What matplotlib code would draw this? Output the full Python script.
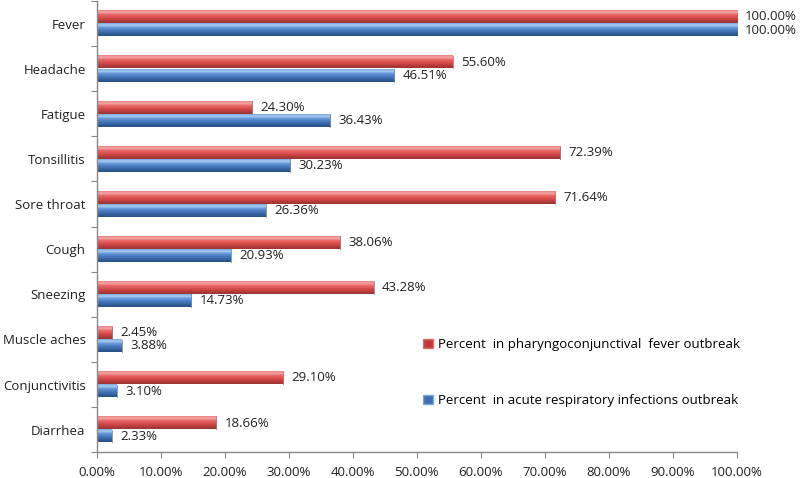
import numpy as np
import matplotlib
matplotlib.use('Agg')
import matplotlib.pyplot as plt
from matplotlib.colors import LinearSegmentedColormap
from matplotlib.patches import Patch

symptoms = ["Fever", "Headache", "Fatigue", "Tonsillitis", "Sore throat", "Cough",
            "Sneezing", "Muscle aches", "Conjunctivitis", "Diarrhea"]
pcf_pct = [100.00, 55.60, 24.30, 72.39, 71.64, 38.06, 43.28, 2.45, 29.10, 18.66]
ari_pct = [100.00, 46.51, 36.43, 30.23, 26.36, 20.93, 14.73, 3.88, 3.10, 2.33]
series_names = ["Percent  in pharyngoconjunctival  fever outbreak",
                "Percent  in acute respiratory infections outbreak"]
x_ticks = np.arange(0, 101, 10)

plt.rcParams['font.family'] = ['Open Sans', 'DejaVu Sans']

# gradient colormaps, listed from the top edge of a bar down to its bottom edge
red_cmap = LinearSegmentedColormap.from_list(
    "red3d", ["#e88080", "#f4a8a8", "#ea6a6a", "#e05555", "#cc4545", "#b03a3a", "#9a3535"])
blue_cmap = LinearSegmentedColormap.from_list(
    "blue3d", ["#7aa8e0", "#a8cdf2", "#6a9ada", "#4f82c4", "#3f6fb0", "#305e9a", "#284f85"])
grad = np.linspace(0, 1, 64).reshape(-1, 1)

fig = plt.figure(figsize=(8, 4.78), dpi=100)
ax = fig.add_axes([0.121, 0.054, 0.8, 0.944])

n = len(symptoms)
y = np.arange(n)
h = 0.28
off = 0.145

def draw_bar(val, yc, cmap):
    # y axis is inverted, so yc - h/2 is the visual top
    ax.imshow(grad, cmap=cmap, origin='upper', aspect='auto',
              extent=(0, val, yc + h / 2, yc - h / 2), interpolation='bilinear', zorder=2)
    ax.plot([val, val], [yc - h / 2, yc + h / 2], color="#8a8a8a", lw=0.6, zorder=3)

for i in range(n):
    draw_bar(pcf_pct[i], y[i] - off, red_cmap)
    draw_bar(ari_pct[i], y[i] + off, blue_cmap)
    ax.text(pcf_pct[i] + 1.3, y[i] - off, f"{pcf_pct[i]:.2f}%", va='center', ha='left',
            fontsize=9.5, color="#222222")
    ax.text(ari_pct[i] + 1.3, y[i] + off, f"{ari_pct[i]:.2f}%", va='center', ha='left',
            fontsize=9.5, color="#222222")

ax.set_xlim(0, 100)
ax.set_ylim(n - 0.5, -0.5)

ax.set_xticks(x_ticks)
ax.set_xticklabels([f"{t:.2f}%" for t in x_ticks], fontsize=9.5, color="#222222")
ax.set_yticks(np.arange(-0.5, n, 1))
ax.set_yticklabels([])
ax.set_yticks(y, minor=True)
ax.set_yticklabels(symptoms, minor=True, fontsize=9.5, color="#222222")
ax.tick_params(axis='y', which='minor', length=0, pad=8)
ax.tick_params(axis='y', which='major', length=4, color="#888888")
ax.tick_params(axis='x', length=4, color="#888888", pad=6)

for s in ['top', 'right']:
    ax.spines[s].set_visible(False)
for s in ['left', 'bottom']:
    ax.spines[s].set_color("#888888")
    ax.spines[s].set_linewidth(1)

handles = [Patch(facecolor="#c0393b", edgecolor="#e07070"),
           Patch(facecolor="#3f72b5", edgecolor="#7aa8e0")]
ax.legend(handles, series_names, loc='upper left', bbox_to_anchor=(0.502, 0.265),
          frameon=False, fontsize=9.5, handlelength=0.7, handleheight=0.7,
          handletextpad=0.4, labelspacing=3.3, borderaxespad=0)

fig.savefig("out.png", dpi=100)
